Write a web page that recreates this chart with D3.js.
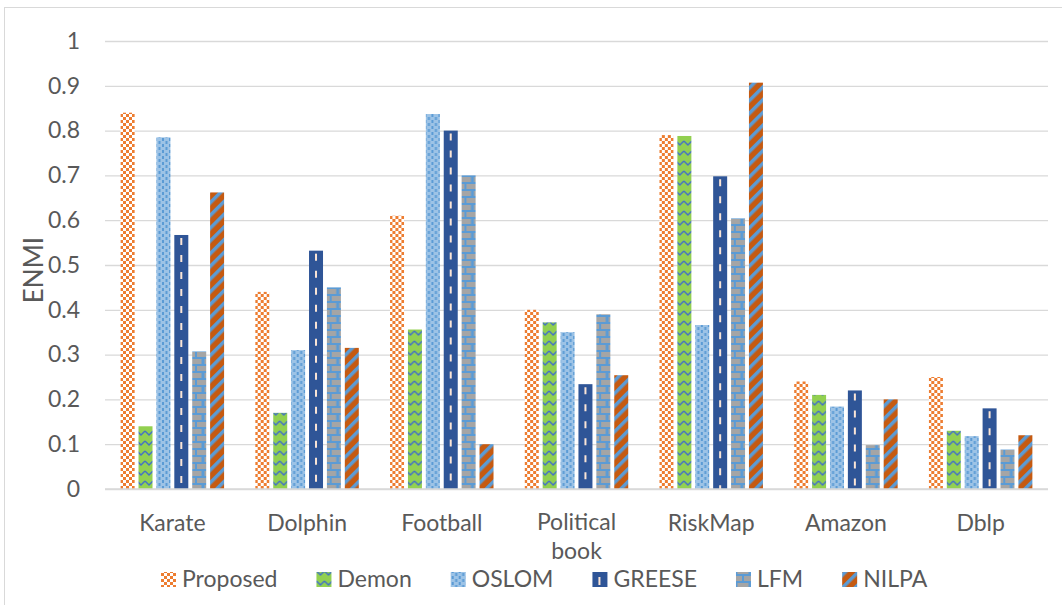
<!DOCTYPE html>
<html>
<head>
<meta charset="utf-8">
<script src="https://cdn.jsdelivr.net/npm/d3@7/dist/d3.min.js"></script>
<style>
  html, body { margin: 0; padding: 0; background: #fff; }
  svg { display: block; }
  text { font-family: Lato, "Open Sans", sans-serif; fill: #595959; }
</style>
</head>
<body>
<svg id="chart" width="1062" height="605"></svg>
<script>
// Datasets and algorithms compared
const categories = ["Karate", "Dolphin", "Football", "Political book", "RiskMap", "Amazon", "Dblp"];
const series = ["Proposed", "Demon", "OSLOM", "GREESE", "LFM", "NILPA"];

// ENMI score of each algorithm, one array per algorithm (ordered as categories)
const proposed = [0.84, 0.44, 0.61, 0.40, 0.79, 0.24, 0.25];
const demon    = [0.14, 0.17, 0.356, 0.372, 0.788, 0.21, 0.13];
const oslom    = [0.785, 0.31, 0.837, 0.35, 0.366, 0.184, 0.118];
const greese   = [0.567, 0.532, 0.80, 0.234, 0.698, 0.22, 0.18];
const lfm      = [0.307, 0.45, 0.70, 0.39, 0.604, 0.098, 0.088];
const nilpa    = [0.662, 0.315, 0.10, 0.254, 0.907, 0.20, 0.12];

const yTicks = [0, 0.1, 0.2, 0.3, 0.4, 0.5, 0.6, 0.7, 0.8, 0.9, 1];
const yTickLabels = ["0", "0.1", "0.2", "0.3", "0.4", "0.5", "0.6", "0.7", "0.8", "0.9", "1"];

const values = { Proposed: proposed, Demon: demon, OSLOM: oslom, GREESE: greese, LFM: lfm, NILPA: nilpa };

const svg = d3.select("#chart");
const defs = svg.append("defs");
const FONT = 23;

// ---- fill patterns ----
function pattern(id, w, h, bg, draw, transform) {
  const p = defs.append("pattern")
    .attr("id", id).attr("patternUnits", "userSpaceOnUse")
    .attr("width", w).attr("height", h);
  if (transform) p.attr("patternTransform", transform);
  p.append("rect").attr("width", w).attr("height", h).attr("fill", bg);
  draw(p);
}

// orange checkerboard
pattern("p-proposed", 6, 6, "#ED7D31", p => {
  p.append("rect").attr("x", 0).attr("y", 0).attr("width", 3).attr("height", 3).attr("fill", "#fff");
  p.append("rect").attr("x", 3).attr("y", 3).attr("width", 3).attr("height", 3).attr("fill", "#fff");
});
// green with blue zigzag
pattern("p-demon", 8, 10, "#92D050", p => {
  p.append("path").attr("d", "M0,1 L4,5 L8,1").attr("fill", "none")
    .attr("stroke", "#4472C4").attr("stroke-width", 1.5);
});
// light blue with dotted columns
pattern("p-oslom", 7, 6, "#9DC3E6", p => {
  p.append("rect").attr("x", 1).attr("y", 0).attr("width", 2).attr("height", 3).attr("fill", "#5B9BD5");
  p.append("rect").attr("x", 4.5).attr("y", 3).attr("width", 2).attr("height", 3).attr("fill", "#5B9BD5");
});
// grey bricks with blue mortar
pattern("p-lfm", 14, 14, "#A5A5A5", p => {
  p.append("rect").attr("x", 0).attr("y", 0).attr("width", 14).attr("height", 2).attr("fill", "#5B9BD5");
  p.append("rect").attr("x", 0).attr("y", 7).attr("width", 14).attr("height", 2).attr("fill", "#5B9BD5");
  p.append("rect").attr("x", 6).attr("y", 0).attr("width", 2).attr("height", 7).attr("fill", "#5B9BD5");
  p.append("rect").attr("x", 0).attr("y", 7).attr("width", 1.5).attr("height", 7).attr("fill", "#5B9BD5");
  p.append("rect").attr("x", 12.5).attr("y", 7).attr("width", 1.5).attr("height", 7).attr("fill", "#5B9BD5");
});
// dark orange with blue diagonal stripes
pattern("p-nilpa", 9, 9, "#C55A11", p => {
  p.append("rect").attr("x", 0).attr("y", 0).attr("width", 3.5).attr("height", 9).attr("fill", "#5B9BD5");
}, "rotate(45)");
// legend key for GREESE
pattern("p-greese-key", 14, 14, "#2F5597", p => {
  p.append("rect").attr("x", 6).attr("y", 3).attr("width", 2).attr("height", 8).attr("fill", "#FBE5D6");
});

const fills = {
  Proposed: "url(#p-proposed)",
  Demon: "url(#p-demon)",
  OSLOM: "url(#p-oslom)",
  GREESE: "#2F5597",
  LFM: "url(#p-lfm)",
  NILPA: "url(#p-nilpa)"
};

// ---- frame ----
svg.append("rect")
  .attr("x", 4.5).attr("y", 7.5).attr("width", 1100).attr("height", 700)
  .attr("fill", "none").attr("stroke", "#D9D9D9").attr("stroke-width", 1);

// ---- scales ----
const plotLeft = 105, plotRight = 1048, plotTop = 41, plotBottom = 489;
const x = d3.scaleBand().domain(categories).range([plotLeft, plotRight]).paddingInner(0).paddingOuter(0);
const bw = x.bandwidth();
const xi = d3.scaleBand().domain(series).range([bw * 0.116, bw * 0.884]).paddingInner(0.218);
const y = d3.scaleLinear().domain([0, 1]).range([plotBottom, plotTop]);

// ---- gridlines and y axis ----
const yAxis = d3.axisLeft(y)
  .tickValues(yTicks)
  .tickFormat((d, i) => yTickLabels[i])
  .tickSize(-(plotRight - plotLeft))
  .tickPadding(25);

const gy = svg.append("g").attr("transform", `translate(${plotLeft},0)`).call(yAxis);
gy.select(".domain").remove();
gy.selectAll(".tick line").attr("stroke", "#D9D9D9").attr("stroke-width", 1.3);
gy.selectAll(".tick text")
  .attr("font-size", FONT).attr("fill", "#595959")
  .style("font-family", "Lato, 'Open Sans', sans-serif");

// ---- bars ----
const groups = svg.append("g").selectAll("g")
  .data(categories)
  .join("g")
  .attr("transform", d => `translate(${x(d)},0)`);

groups.selectAll("rect")
  .data((c, ci) => series.map(s => ({ s, v: values[s][ci] })))
  .join("rect")
  .attr("x", d => xi(d.s))
  .attr("y", d => y(d.v))
  .attr("width", xi.bandwidth())
  .attr("height", d => y(0) - y(d.v))
  .attr("fill", d => fills[d.s]);

// dashed centre line on the GREESE bars
groups.selectAll("line.dash")
  .data((c, ci) => [{ v: values.GREESE[ci] }])
  .join("line")
  .attr("class", "dash")
  .attr("x1", xi("GREESE") + xi.bandwidth() / 2)
  .attr("x2", xi("GREESE") + xi.bandwidth() / 2)
  .attr("y1", d => y(d.v) + 3)
  .attr("y2", y(0))
  .attr("stroke", "#FBE5D6").attr("stroke-width", 2)
  .attr("stroke-dasharray", "7,10");

// baseline
svg.append("line")
  .attr("x1", plotLeft).attr("x2", plotRight)
  .attr("y1", y(0)).attr("y2", y(0))
  .attr("stroke", "#D9D9D9").attr("stroke-width", 1.5);

// ---- x labels ----
const xLabels = svg.append("g").selectAll("text")
  .data(categories)
  .join("text")
  .attr("x", d => x(d) + bw / 2)
  .attr("y", 531)
  .attr("text-anchor", "middle")
  .attr("font-size", FONT);

xLabels.each(function (d) {
  const words = d.split(" ");
  const t = d3.select(this);
  if (words.length > 1) {
    t.attr("y", 530);
    words.forEach((w, i) => {
      t.append("tspan").attr("x", x(d) + bw / 2).attr("dy", i === 0 ? 0 : 29).text(w);
    });
  } else {
    t.text(d);
  }
});

// ---- y title ----
svg.append("text")
  .attr("transform", "translate(43,270) rotate(-90)")
  .attr("text-anchor", "middle")
  .attr("font-size", 26)
  .text("ENMI");

// ---- legend ----
const legend = svg.append("g");
const legendFills = Object.assign({}, fills, { GREESE: "url(#p-greese-key)" });

let lx = 161;
series.forEach(s => {
  const g = legend.append("g").attr("transform", `translate(${lx},0)`);
  g.append("rect").attr("x", 0).attr("y", 572).attr("width", 15).attr("height", 15)
    .attr("fill", legendFills[s]);
  const t = g.append("text").attr("x", 21).attr("y", 587).attr("font-size", FONT).text(s);
  lx += 21 + t.node().getComputedTextLength() + 39;
});
</script>
</body>
</html>
